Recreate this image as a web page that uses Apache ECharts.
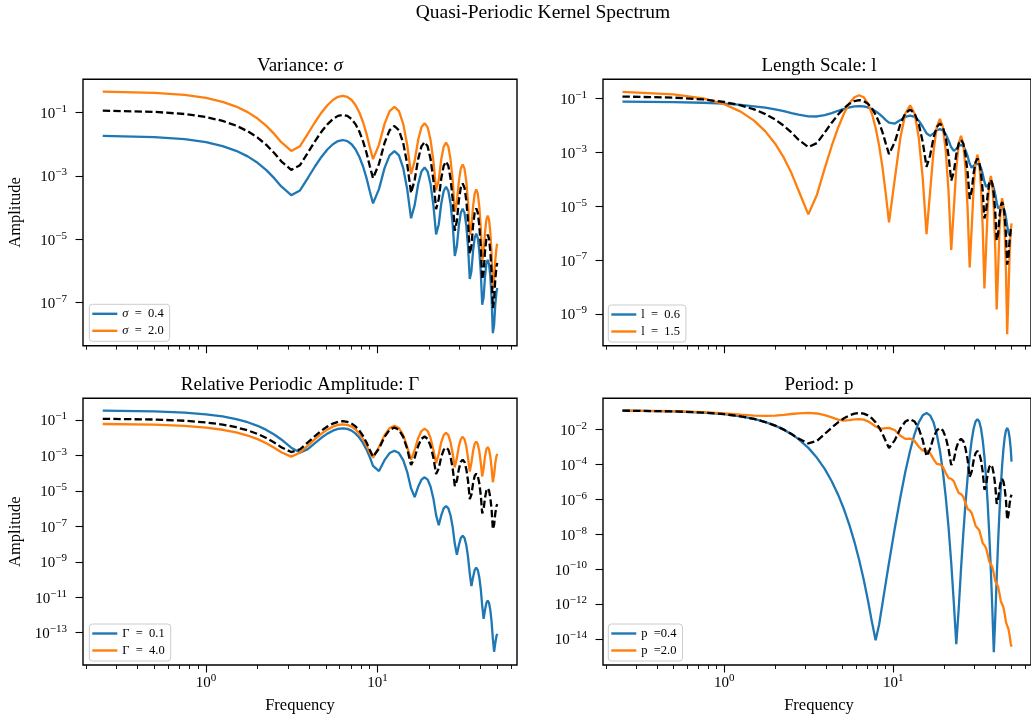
<!DOCTYPE html>
<html><head><meta charset="utf-8">
<script src="https://cdn.jsdelivr.net/npm/echarts@6/dist/echarts.min.js"></script>
<style>html,body{margin:0;padding:0;background:#fff}#c{width:1031px;height:719px}</style>
</head><body><div id="c"></div>
<script>
// Frequency grid shared by every curve
const freq = [0.25,0.5,0.75,1,1.25,1.5,1.75,2,2.25,2.5,2.749,3.142,3.534,3.927,4.32,4.712,5.105,5.498,5.89,6.283,6.676,7.069,7.461,7.854,8.247,8.639,9.032,9.425,10.21,11.0,11.78,12.57,13.35,14.14,14.92,15.71,16.49,17.28,18.06,18.85,19.63,20.42,21.21,21.99,22.78,23.56,24.35,25.13,25.92,26.70,27.49,28.27,29.06,29.85,30.63,31.42,32.20,32.99,33.77,34.56,35.34,36.13,36.91,37.70,38.48,39.27,40.06,40.84,41.63,42.41,43.20,43.98,44.77,45.55,46.34,47.12,47.91,48.69,49.48,50.0];

// Amplitudes, stored as log10(amplitude)
const defaultLog = [-0.934,-0.974,-1.042,-1.137,-1.259,-1.409,-1.585,-1.788,-2.018,-2.272,-2.535,-2.81,-2.659,-2.268,-1.904,-1.603,-1.368,-1.201,-1.101,-1.067,-1.101,-1.201,-1.368,-1.603,-1.904,-2.271,-2.692,-3.07,-2.618,-1.956,-1.554,-1.42,-1.554,-1.956,-2.624,-3.54,-3.125,-2.466,-2.064,-1.93,-2.064,-2.466,-3.134,-4.05,-3.737,-3.081,-2.679,-2.545,-2.679,-3.081,-3.75,-4.73,-4.425,-3.771,-3.369,-3.235,-3.369,-3.771,-4.44,-5.46,-5.211,-4.561,-4.159,-4.025,-4.159,-4.561,-5.23,-6.27,-6.035,-5.386,-4.984,-4.85,-4.984,-5.386,-6.055,-7.17,-6.912,-6.266,-5.864,-5.746];

const sigma04Log = [-1.73,-1.77,-1.838,-1.933,-2.055,-2.205,-2.381,-2.584,-2.814,-3.068,-3.331,-3.606,-3.455,-3.064,-2.70,-2.399,-2.164,-1.997,-1.897,-1.863,-1.897,-1.997,-2.164,-2.399,-2.70,-3.067,-3.488,-3.866,-3.414,-2.752,-2.35,-2.216,-2.35,-2.752,-3.42,-4.336,-3.921,-3.262,-2.86,-2.726,-2.86,-3.262,-3.93,-4.846,-4.533,-3.877,-3.475,-3.341,-3.475,-3.877,-4.546,-5.526,-5.221,-4.567,-4.165,-4.031,-4.165,-4.567,-5.236,-6.256,-6.007,-5.357,-4.955,-4.821,-4.955,-5.357,-6.026,-7.066,-6.831,-6.182,-5.78,-5.646,-5.78,-6.182,-6.851,-7.966,-7.708,-7.062,-6.66,-6.542];
const sigma20Log = [-0.332,-0.372,-0.44,-0.535,-0.657,-0.807,-0.983,-1.186,-1.416,-1.67,-1.933,-2.208,-2.057,-1.666,-1.302,-1.001,-0.766,-0.599,-0.499,-0.465,-0.499,-0.599,-0.766,-1.001,-1.302,-1.669,-2.09,-2.468,-2.016,-1.354,-0.952,-0.818,-0.952,-1.354,-2.022,-2.938,-2.523,-1.864,-1.462,-1.328,-1.462,-1.864,-2.532,-3.448,-3.135,-2.479,-2.077,-1.943,-2.077,-2.479,-3.148,-4.128,-3.823,-3.169,-2.767,-2.633,-2.767,-3.169,-3.838,-4.858,-4.609,-3.959,-3.557,-3.423,-3.557,-3.959,-4.628,-5.668,-5.433,-4.784,-4.382,-4.248,-4.382,-4.784,-5.453,-6.568,-6.31,-5.664,-5.262,-5.144];

const len06Log = [-1.126,-1.141,-1.165,-1.199,-1.243,-1.297,-1.348,-1.412,-1.479,-1.546,-1.605,-1.668,-1.674,-1.626,-1.548,-1.463,-1.389,-1.333,-1.299,-1.287,-1.299,-1.335,-1.395,-1.476,-1.577,-1.691,-1.807,-1.901,-1.936,-1.808,-1.686,-1.642,-1.69,-1.832,-2.055,-2.296,-2.392,-2.3,-2.186,-2.144,-2.192,-2.335,-2.56,-2.817,-2.947,-2.878,-2.77,-2.729,-2.777,-2.92,-3.148,-3.416,-3.575,-3.53,-3.429,-3.388,-3.437,-3.581,-3.811,-4.091,-4.284,-4.268,-4.176,-4.138,-4.188,-4.331,-4.564,-4.855,-5.082,-5.103,-5.023,-4.988,-5.038,-5.182,-5.416,-5.722,-5.998,-6.082,-6.027,-6.0];
const len15Log = [-0.761,-0.852,-1.005,-1.219,-1.493,-1.829,-2.226,-2.684,-3.203,-3.783,-4.42,-5.305,-4.574,-3.597,-2.768,-2.09,-1.563,-1.186,-0.96,-0.885,-0.96,-1.186,-1.563,-2.09,-2.768,-3.597,-4.574,-5.601,-3.972,-2.465,-1.561,-1.26,-1.561,-2.465,-3.972,-6.035,-4.472,-2.965,-2.061,-1.76,-2.061,-2.965,-4.472,-6.629,-5.102,-3.595,-2.691,-2.39,-2.691,-3.595,-5.102,-7.271,-5.807,-4.3,-3.396,-3.095,-3.396,-4.3,-5.807,-8.05,-6.592,-5.085,-4.181,-3.88,-4.181,-5.085,-6.592,-8.829,-7.417,-5.91,-5.006,-4.705,-5.006,-5.91,-7.417,-9.746,-8.312,-6.805,-5.901,-5.636];

const gamma01Log = [-0.475,-0.515,-0.583,-0.678,-0.80,-0.95,-1.126,-1.329,-1.559,-1.817,-2.098,-2.563,-2.838,-2.642,-2.302,-2.003,-1.769,-1.602,-1.502,-1.468,-1.502,-1.602,-1.769,-2.004,-2.305,-2.673,-3.107,-3.588,-3.883,-3.266,-2.865,-2.731,-2.865,-3.267,-3.936,-4.86,-5.348,-4.767,-4.366,-4.232,-4.366,-4.768,-5.437,-6.365,-6.941,-6.385,-5.984,-5.85,-5.984,-6.386,-7.055,-7.984,-8.604,-8.061,-7.66,-7.526,-7.66,-8.062,-8.731,-9.662,-10.372,-9.865,-9.464,-9.33,-9.464,-9.866,-10.535,-11.467,-12.214,-11.724,-11.324,-11.19,-11.324,-11.726,-12.395,-13.327,-14.074,-13.584,-13.184,-13.066];
const gamma40Log = [-1.226,-1.266,-1.334,-1.429,-1.551,-1.701,-1.877,-2.079,-2.31,-2.562,-2.82,-3.069,-2.845,-2.444,-2.079,-1.778,-1.543,-1.376,-1.276,-1.242,-1.276,-1.376,-1.543,-1.778,-2.079,-2.444,-2.853,-3.12,-2.522,-1.857,-1.455,-1.321,-1.455,-1.857,-2.524,-3.24,-2.69,-2.026,-1.624,-1.49,-1.624,-2.026,-2.693,-3.433,-2.92,-2.256,-1.854,-1.72,-1.854,-2.256,-2.923,-3.663,-3.15,-2.486,-2.084,-1.95,-2.084,-2.486,-3.153,-3.906,-3.419,-2.756,-2.354,-2.22,-2.354,-2.756,-3.424,-4.187,-3.719,-3.056,-2.654,-2.52,-2.654,-3.056,-3.724,-4.512,-4.098,-3.436,-3.034,-2.916];

const period04Log = [-0.934,-0.974,-1.042,-1.137,-1.259,-1.409,-1.585,-1.788,-2.019,-2.277,-2.561,-3.063,-3.632,-4.268,-4.972,-5.741,-6.578,-7.483,-8.452,-9.491,-10.596,-11.769,-13.004,-14.07,-13.151,-11.916,-10.743,-9.638,-7.63,-5.888,-4.415,-3.21,-2.272,-1.603,-1.201,-1.067,-1.201,-1.603,-2.272,-3.21,-4.415,-5.888,-7.63,-9.638,-11.916,-14.3,-12.269,-9.991,-7.983,-6.241,-4.768,-3.563,-2.625,-1.956,-1.554,-1.42,-1.554,-1.956,-2.625,-3.563,-4.768,-6.241,-7.983,-9.991,-12.269,-14.75,-12.779,-10.501,-8.493,-6.751,-5.278,-4.073,-3.135,-2.466,-2.064,-1.93,-2.064,-2.466,-3.135,-3.85];
const period20Log = [-0.929,-0.963,-1.019,-1.088,-1.159,-1.213,-1.233,-1.215,-1.174,-1.125,-1.086,-1.061,-1.095,-1.185,-1.315,-1.443,-1.502,-1.478,-1.43,-1.413,-1.449,-1.543,-1.684,-1.839,-1.943,-1.959,-1.931,-1.921,-2.055,-2.372,-2.549,-2.532,-2.672,-3.0,-3.218,-3.22,-3.363,-3.705,-3.977,-4.006,-4.154,-4.5,-4.788,-4.83,-4.979,-5.333,-5.648,-5.707,-5.86,-6.218,-6.558,-6.634,-6.79,-7.153,-7.516,-7.612,-7.771,-8.137,-8.523,-8.638,-8.801,-9.171,-9.578,-9.714,-9.881,-10.255,-10.682,-10.84,-11.012,-11.389,-11.835,-12.015,-12.192,-12.571,-13.033,-13.231,-13.412,-13.793,-14.268,-14.442];

// Tick positions
const xMajorTicks = [1, 10];
const xMinorTicks = [0.2,0.3,0.4,0.5,0.6,0.7,0.8,0.9,2,3,4,5,6,7,8,9,20,30,40,50,60];
const yTickExpTL = [-1,-3,-5,-7];
const yTickExpTR = [-1,-3,-5,-7,-9];
const yTickExpBL = [-1,-3,-5,-7,-9,-11,-13];
const yTickExpBR = [-2,-4,-6,-8,-10,-12,-14];

const BLUE = '#1f77b4', ORANGE = '#ff7f0e';
const FONT = "'Liberation Serif','DejaVu Serif',serif";
const X_MIN = 0.19178, X_MAX = 65.17;
const SP = '\u2002';

const panels = [
  {grid:{left:83, top:79.3, width:434, height:266.4}, yMin:-8.362, yMax:0.055, yTicks:yTickExpTL,
   title:'{n|Variance: }{i|σ}', cx:300, ty:66, showX:false,
   curves:[['σ = 0.4', sigma04Log, BLUE], ['σ = 2.0', sigma20Log, ORANGE]], legend:{left:89.3, top:304.3}},
  {grid:{left:603, top:79.3, width:432, height:266.4}, yMin:-10.176, yMax:-0.295, yTicks:yTickExpTR,
   title:'{n|Length Scale: l}', cx:819, ty:66, showX:false,
   curves:[['l = 0.6', len06Log, BLUE], ['l = 1.5', len15Log, ORANGE]], legend:{left:608.3, top:305}},
  {grid:{left:83, top:398.3, width:434, height:266.7}, yMin:-14.822, yMax:0.224, yTicks:yTickExpBL,
   title:'{n|Relative Periodic Amplitude: Γ}', cx:300, ty:385, showX:true,
   curves:[['Γ = 0.1', gamma01Log, BLUE], ['Γ = 4.0', gamma40Log, ORANGE]], legend:{left:89.3, top:624}},
  {grid:{left:603, top:398.3, width:432, height:266.7}, yMin:-15.488, yMax:-0.226, yTicks:yTickExpBR,
   title:'{n|Period: p}', cx:819, ty:385, showX:true,
   curves:[['p =0.4', period04Log, BLUE], ['p =2.0', period20Log, ORANGE]], legend:{left:608.3, top:624}}
];

const RICH = {
  b: {fontSize:15, fontFamily:FONT, color:'#000', verticalAlign:'bottom'},
  s: {fontSize:11, fontFamily:FONT, color:'#000', verticalAlign:'bottom', padding:[0,0,7,0]}
};
function expLabel(v) {
  const e = Math.round(Math.log10(v));
  return '{b|10}{s|' + (e < 0 ? '\u2212' : '') + Math.abs(e) + '}';
}
const tickLine = {color:'#000', width:1.1};

const option = {animation:false, backgroundColor:'#fff', grid:[], xAxis:[], yAxis:[], series:[], legend:[], graphic:[]};

panels.forEach((p, i) => {
  option.grid.push(Object.assign({show:true, borderColor:'#000', borderWidth:1.4, backgroundColor:'rgba(0,0,0,0)'}, p.grid));
  const xBase = {type:'log', logBase:10, gridIndex:i, min:X_MIN, max:X_MAX, position:'bottom',
    splitLine:{show:false}, axisLine:{show:false}, minorTick:{show:false}};
  option.xAxis.push(Object.assign({}, xBase, {
    axisTick:{show:true, customValues:xMajorTicks, length:7.5, lineStyle:tickLine},
    axisLabel:{show:p.showX, customValues:xMajorTicks, margin:8, formatter:expLabel, rich:RICH}
  }));
  option.xAxis.push(Object.assign({}, xBase, {
    axisTick:{show:true, customValues:xMinorTicks, length:4, lineStyle:{color:'#000', width:0.9}},
    axisLabel:{show:false}
  }));
  const yt = p.yTicks.map(e => Math.pow(10, e));
  option.yAxis.push({type:'log', logBase:10, gridIndex:i, min:Math.pow(10, p.yMin), max:Math.pow(10, p.yMax),
    splitLine:{show:false}, axisLine:{show:false}, minorTick:{show:false},
    axisTick:{show:true, customValues:yt, length:7.5, lineStyle:tickLine},
    axisLabel:{show:true, customValues:yt, margin:16, formatter:expLabel, rich:RICH}
  });
  p.curves.forEach(c => {
    option.series.push({type:'line', name:c[0], xAxisIndex:2*i, yAxisIndex:i, showSymbol:false, symbol:'none',
      color:c[2], lineStyle:{width:2.3, color:c[2]}, data:freq.map((f, k) => [f, Math.pow(10, c[1][k])])});
  });
  option.series.push({type:'line', name:'default' + i, xAxisIndex:2*i, yAxisIndex:i, showSymbol:false, symbol:'none',
    color:'#000', lineStyle:{width:2.3, color:'#000', type:[7.4, 3.2]}, data:freq.map((f, k) => [f, Math.pow(10, defaultLog[k])])});
  option.legend.push({data:p.curves.map(c => c[0]), orient:'vertical', left:p.legend.left, top:p.legend.top,
    icon:'rect', itemWidth:25, itemHeight:2.4, itemGap:2, padding:[2,6,3,3], selectedMode:false,
    backgroundColor:'rgba(255,255,255,0.8)', borderColor:'#cccccc', borderWidth:1, borderRadius:3,
    formatter: n => n.replace('σ', '{i|σ}').replace(/ /g, SP),
    textStyle:{fontFamily:FONT, fontSize:12.5, color:'#000', lineHeight:15, rich:{i:{fontStyle:'italic', fontFamily:FONT, fontSize:12.5}}}
  });
  option.graphic.push({type:'text', x:p.cx, y:p.ty, style:{text:p.title, align:'center', verticalAlign:'middle',
    rich:{n:{fontSize:19, fontFamily:FONT, fill:'#000'}, i:{fontSize:19, fontFamily:FONT, fontStyle:'italic', fill:'#000'}}}});
  if (i % 2 === 0) {
    option.graphic.push({type:'text', x:16, y:p.grid.top + p.grid.height / 2, rotation:Math.PI / 2,
      style:{text:'Amplitude', align:'center', verticalAlign:'middle', fontSize:16.5, fontFamily:FONT, fill:'#000'}});
  }
  if (p.showX) {
    option.graphic.push({type:'text', x:p.cx, y:706, style:{text:'Frequency', align:'center', verticalAlign:'middle', fontSize:16.5, fontFamily:FONT, fill:'#000'}});
  }
});
option.graphic.push({type:'text', x:543, y:12.5, style:{text:'Quasi-Periodic Kernel Spectrum', align:'center', verticalAlign:'middle', fontSize:19.5, fontFamily:FONT, fill:'#000'}});

const chart = echarts.init(document.getElementById('c'), null, {renderer:'canvas'});
chart.setOption(option);
</script></body></html>
